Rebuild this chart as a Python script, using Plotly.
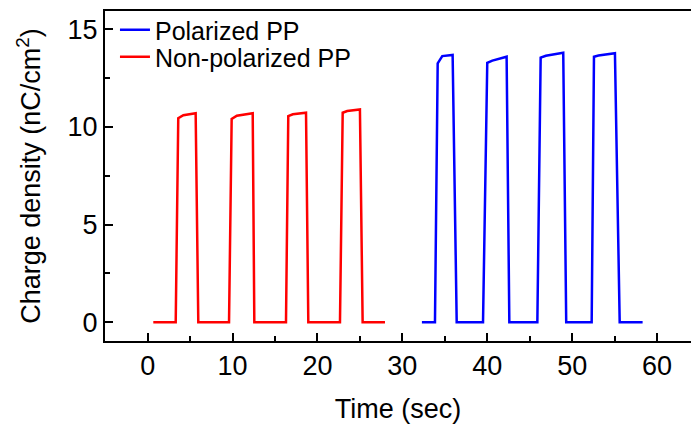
import plotly.graph_objects as go

# Non-polarized PP (red)
t_nonpol = [0.66, 3.30, 3.60, 4.2, 5.65, 5.96, 9.58, 9.89, 10.5, 12.37, 12.56,
            16.29, 16.56, 17.1, 18.65, 18.92, 22.65, 22.97, 23.5, 25.0, 25.32, 27.95]
q_nonpol = [0, 0, 10.45, 10.60, 10.70, 0, 0, 10.41, 10.58, 10.70, 0,
            0, 10.56, 10.65, 10.73, 0, 0, 10.73, 10.82, 10.90, 0, 0]

# Polarized PP (blue)
t_pol = [32.3, 33.84, 34.16, 34.7, 35.92, 36.4, 39.5, 40.0, 40.6, 42.28, 42.6,
         45.9, 46.29, 46.9, 48.95, 49.3, 52.3, 52.57, 53.1, 55.04, 55.6, 58.3]
q_pol = [0, 0, 13.26, 13.63, 13.69, 0, 0, 13.29, 13.40, 13.60, 0,
         0, 13.55, 13.65, 13.80, 0, 0, 13.60, 13.66, 13.78, 0, 0]

x_ticks = [0, 10, 20, 30, 40, 50, 60]
y_ticks = [0, 5, 10, 15]

FONT = "Arial, Liberation Sans, sans-serif"

fig = go.Figure()
fig.add_trace(go.Scatter(x=t_pol, y=q_pol, mode="lines", name="Polarized PP",
                         line=dict(color="#0000FF", width=2.5), legend="legend"))
fig.add_trace(go.Scatter(x=t_nonpol, y=q_nonpol, mode="lines", name="Non-polarized PP",
                         line=dict(color="#FF0000", width=2.5), legend="legend2"))

leg_common = dict(x=0.017, xanchor="left", yanchor="middle",
                  bgcolor="rgba(0,0,0,0)", font=dict(size=25), itemwidth=30)

fig.update_layout(
    width=691, height=428,
    margin=dict(l=105, r=0, t=11, b=87),
    paper_bgcolor="white", plot_bgcolor="white",
    font=dict(family=FONT, color="black", size=24),
    showlegend=True,
    legend=dict(y=0.9424, **leg_common),
    legend2=dict(y=0.8606, **leg_common),
    xaxis=dict(range=[-5.03, 64.0], tickvals=x_ticks, showgrid=False, zeroline=False,
               automargin=False,
               showline=True, linecolor="black", linewidth=2, mirror=True,
               ticks="inside", ticklen=8, tickwidth=2, tickcolor="black",
               minor=dict(ticks="inside", ticklen=5, tickwidth=2, dtick=5, tick0=5, tickcolor="black"),
               tickfont=dict(size=27),
               title=dict(text="Time (sec)", font=dict(size=27), standoff=19)),
    yaxis=dict(range=[-0.96, 15.94], tickvals=y_ticks, showgrid=False, zeroline=False,
               automargin=False,
               showline=True, linecolor="black", linewidth=2, mirror=False,
               ticks="inside", ticklen=8, tickwidth=2, tickcolor="black",
               minor=dict(ticks="inside", ticklen=5, tickwidth=2, dtick=2.5, tick0=2.5, tickcolor="black"),
               tickfont=dict(size=27),
               title=dict(text="Charge density (nC/cm<sup>2</sup>)", font=dict(size=27), standoff=19)),
)

fig.write_html("out.html",
               config={"displayModeBar": False},
               post_script="document.body.style.margin='0';document.body.style.overflow='hidden';")
